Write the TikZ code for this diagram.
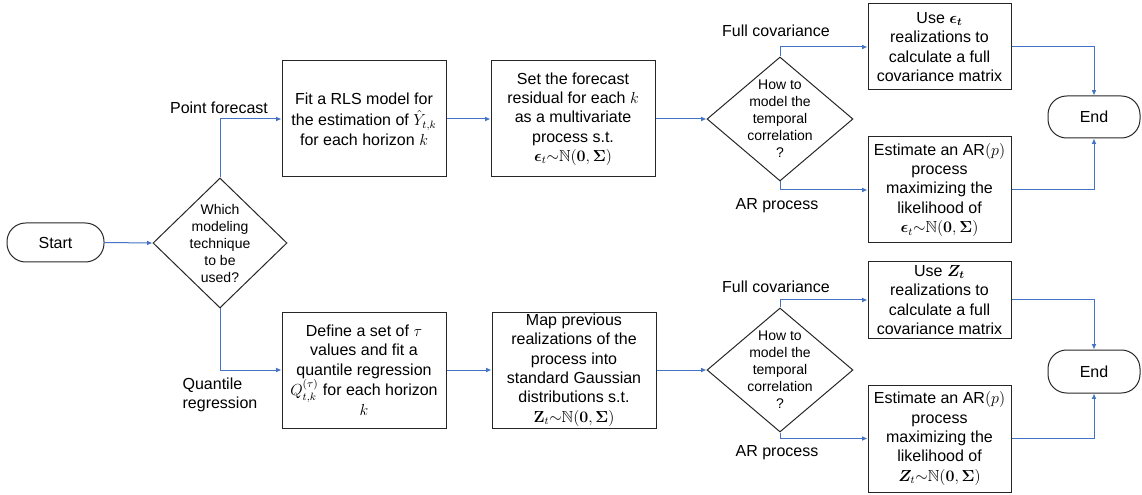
\documentclass[tikz,border=0pt]{standalone}
\usepackage{amsmath,amssymb,bm}
\usepackage[no-math]{fontspec}
\setmainfont{Liberation Sans}
\usetikzlibrary{shapes.geometric,arrows.meta}
\definecolor{linkblue}{HTML}{4472C4}
\tikzset{
  procbox/.style={draw=black!85, line width=0.75pt, rectangle, align=center, inner sep=0pt,
    font=\fontsize{12}{14.5}\selectfont},
  termbox/.style={draw=black!85, line width=0.75pt, rectangle, rounded corners=14pt, align=center,
    font=\fontsize{12}{14.5}\selectfont},
  decision/.style={draw=black!85, line width=0.75pt, diamond, inner sep=0pt},
  dectext/.style={align=center, font=\fontsize{10.5}{12.75}\selectfont},
  lbl/.style={font=\fontsize{12}{14.5}\selectfont},
  conn/.style={draw=linkblue, line width=0.75pt, -{Latex[length=4pt,width=3.5pt]}},
}
\begin{document}
\begin{tikzpicture}[x=0.75pt,y=-0.75pt]
\useasboundingbox (0,0) rectangle (1142,495);

% start
\node[termbox, minimum width=72.75pt, minimum height=29.25pt] (start) at (55.5,242.5) {Start};

% decision 1
\node[decision, minimum width=100.5pt, minimum height=97.5pt] (d1) at (220,243) {};
\node[dectext] (d1t) at (d1) {Which\\modeling\\technique\\to be\\used?};

% top branch
\node[procbox, minimum width=123pt, minimum height=87pt] (b1) at (364,119)
  {Fit a RLS model for\\[1.5pt]the estimation of $\hat{Y}_{t,k}$\\for each horizon $k$};
\node[procbox, minimum width=123pt, minimum height=87pt] (b2) at (573,119)
  {Set the forecast\\residual for each $k$\\as a multivariate\\process s.t.\\$\bm{\epsilon}_t{\sim}\mathbb{N}(\mathbf{0},\bm{\Sigma})$};
\node[decision, minimum width=109.5pt, minimum height=93pt] (d2) at (780,119) {};
\node[dectext] (d2t) at (d2) {How to\\model the\\temporal\\correlation\\?};
\node[procbox, minimum width=107.25pt, minimum height=64.5pt] (b3) at (939.5,47)
  {Use $\bm{\epsilon_t}$\\realizations to\\calculate a full\\covariance matrix};
\node[procbox, minimum width=107.25pt, minimum height=79.5pt] (b4) at (939.5,190)
  {Estimate an AR$(p)$\\process\\maximizing the\\likelihood of\\$\bm{\epsilon}_t{\sim}\mathbb{N}(\mathbf{0},\bm{\Sigma})$};
\node[termbox, minimum width=69pt, minimum height=31.5pt] (e1) at (1094,117) {End};

% bottom branch
\node[procbox, minimum width=123pt, minimum height=87pt] (b5) at (364,370)
  {Define a set of $\tau$\\values and fit a\\quantile regression\\$Q_{t,k}^{(\tau)}$ for each horizon\\$k$};
\node[procbox, minimum width=123pt, minimum height=87pt] (b6) at (574,370)
  {Map previous\\realizations of the\\process into\\standard Gaussian\\distributions s.t.\\$\mathbf{Z}_t{\sim}\mathbb{N}(\mathbf{0},\bm{\Sigma})$};
\node[decision, minimum width=109.5pt, minimum height=93pt] (d3) at (780,370) {};
\node[dectext] (d3t) at (d3) {How to\\model the\\temporal\\correlation\\?};
\node[procbox, minimum width=107.25pt, minimum height=57pt] (b7) at (939.5,300)
  {Use $\bm{Z_t}$\\realizations to\\calculate a full\\covariance matrix};
\node[procbox, minimum width=107.25pt, minimum height=80.25pt] (b8) at (939.5,438.5)
  {Estimate an AR$(p)$\\process\\maximizing the\\likelihood of\\$\bm{Z}_t{\sim}\mathbb{N}(\mathbf{0},\bm{\Sigma})$};
\node[termbox, minimum width=69pt, minimum height=32.25pt] (e2) at (1094,371.5) {End};

% labels
\node[lbl] (lpf) at (219,108) {Point forecast};
\node[lbl, align=left] (lqr) at (220,395) {Quantile\\regression};
\node[lbl] (lfc1) at (776,31) {Full covariance};
\node[lbl] (lar1) at (777,206) {AR process};
\node[lbl] (lfc2) at (776,287) {Full covariance};
\node[lbl] (lar2) at (777,453) {AR process};

% connectors
\draw[conn] (start.east) -- (d1.west);
\draw[conn] (d1.north) |- (b1.west);
\draw[conn] (d1.south) |- (b5.west);
\draw[conn] (b1.east) -- (b2.west);
\draw[conn] (b2.east) -- (d2.west);
\draw[conn] (d2.north) |- (b3.west);
\draw[conn] (d2.south) |- (b4.west);
\draw[conn] (b3.east) -| (e1.north);
\draw[conn] (b4.east) -| (e1.south);
\draw[conn] (b5.east) -- (b6.west);
\draw[conn] (b6.east) -- (d3.west);
\draw[conn] (d3.north) |- (b7.west);
\draw[conn] (d3.south) |- (b8.west);
\draw[conn] (b7.east) -| (e2.north);
\draw[conn] (b8.east) -| (e2.south);
\end{tikzpicture}
\end{document}
